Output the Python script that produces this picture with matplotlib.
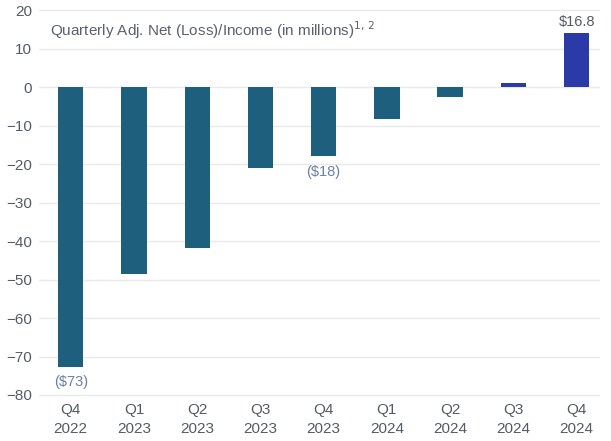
import matplotlib
matplotlib.use("Agg")
import matplotlib.pyplot as plt

plt.rcParams['font.family'] = ['Liberation Sans', 'DejaVu Sans']

# data
quarters = ["Q4\n2022", "Q1\n2023", "Q2\n2023", "Q3\n2023", "Q4\n2023",
            "Q1\n2024", "Q2\n2024", "Q3\n2024", "Q4\n2024"]
values = [-72.7, -48.6, -41.8, -21.0, -18.0, -8.4, -2.6, 1.2, 14.0]
bar_labels = {0: "($73)", 4: "($18)", 8: "$16.8"}
yticks = list(range(-80, 21, 10))

neg_color = "#1d5f7c"
pos_color = "#2a3ba8"
colors = [pos_color if v > 0 else neg_color for v in values]

fig = plt.figure(figsize=(6.11, 4.41), dpi=100)
ax = fig.add_axes([0.064, 0.0956, 0.918, 0.890])

x = list(range(len(values)))
ax.bar(x, values, width=0.4, color=colors, zorder=3)

ax.set_ylim(-81, 21)
ax.set_xlim(-0.5, 8.37)
ax.set_yticks(yticks)
ax.set_xticks(x)
ax.set_xticklabels(quarters, fontsize=11, color="#555b66", linespacing=1.45)
ax.tick_params(axis="y", labelsize=11, colors="#555b66", length=0, pad=5)
ax.tick_params(axis="x", length=0, pad=3)
ax.grid(axis="y", color="#e9e9ec", linewidth=1, zorder=0)
for s in ax.spines.values():
    s.set_visible(False)

# value labels
for i, txt in bar_labels.items():
    v = values[i]
    if v > 0:
        ax.annotate(txt, (i, v), xytext=(0, 3), textcoords="offset points",
                    ha="center", va="bottom", fontsize=10.5, color="#555b66")
    else:
        ax.annotate(txt, (i, v), xytext=(0, -6), textcoords="offset points",
                    ha="center", va="top", fontsize=10.5, color="#6a7fa8")

ax.text(0.02, 0.94, "Quarterly Adj. Net (Loss)/Income (in millions)$^{1,\\,2}$",
        transform=ax.transAxes, fontsize=11, color="#5b6070",
        ha="left", va="center")

fig.savefig("out.png", dpi=100)
